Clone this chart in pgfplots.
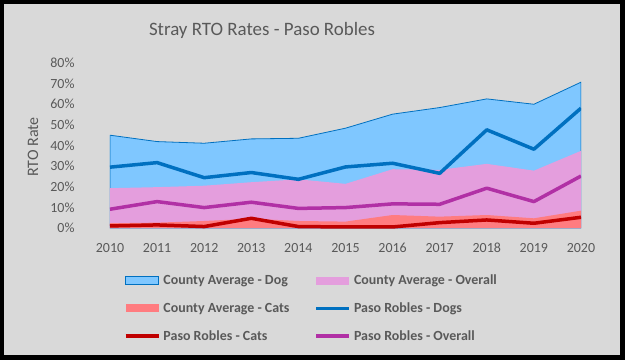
\documentclass[border=0pt]{standalone}
\usepackage{pgfplots}
\pgfplotsset{compat=1.18}
\usepackage{fontspec}
\setmainfont{Carlito}
\definecolor{bg}{RGB}{217,217,217}
\definecolor{txt}{RGB}{89,89,89}
\definecolor{dogfill}{RGB}{127,199,255}
\definecolor{dogedge}{RGB}{0,112,192}
\definecolor{allfill}{RGB}{228,158,221}
\definecolor{catfill}{RGB}{255,124,128}
\definecolor{pdog}{RGB}{0,112,192}
\definecolor{pcat}{RGB}{192,0,0}
\definecolor{pall}{RGB}{177,48,165}
\begin{document}
\begin{tikzpicture}
\useasboundingbox (0,0) rectangle (625bp,360bp);
\fill[black] (0,0) rectangle (625bp,360bp);
\fill[bg] (4bp,5bp) rectangle (620bp,356bp);
\node[text=txt, font=\fontsize{19}{22}\selectfont] at (262bp,330bp) {Stray RTO Rates - Paso Robles};
\node[text=txt, rotate=90, font=\fontsize{16}{19}\selectfont] at (33bp,213bp) {RTO Rate};
\begin{axis}[
  at={(110bp,132bp)}, anchor=south west,
  scale only axis, width=471bp, height=165bp,
  xmin=2010, xmax=2020, ymin=0, ymax=80,
  xtick={2010,...,2020}, ytick={0,10,...,80},
  axis line style={draw=none}, tick style={draw=none},
  /pgf/number format/assume math mode=true,
  /pgf/number format/set thousands separator={},
  xticklabel style={text=txt, font=\fontsize{14}{16}\selectfont, anchor=center, yshift=-20bp},
  yticklabel={\pgfmathprintnumber{\tick}\%},
  yticklabel style={text=txt, font=\fontsize{14}{16}\selectfont, anchor=east, xshift=-32bp},
  legend columns=2,
  legend cell align=left,
  legend style={at={(0.0297,-0.277)}, anchor=north west, draw=none, fill=none,
    inner sep=0pt, outer sep=0pt,
    font=\bfseries\fontsize{14}{17}\selectfont, text=txt,
    nodes={inner sep=0pt, text height=11bp, text depth=3bp},
    row sep=13.7bp,
    /tikz/every odd column/.append style={column sep=3bp},
    /tikz/every even column/.append style={column sep=25bp}},
]
\addplot[fill=dogfill, draw=dogedge, line width=0.8bp,
  legend image code/.code={\draw[fill=dogfill, draw=dogedge, line width=1bp] (0bp,-4bp) rectangle (33bp,4bp);}]
  coordinates {(2010,45) (2011,41.9) (2012,41.1) (2013,43.2) (2014,43.5) (2015,48.4) (2016,55.2) (2017,58.4) (2018,62.6) (2019,60) (2020,70.7)} \closedcycle;
\addlegendentry{County Average - Dog}
\addplot[fill=allfill, draw=none,
  legend image code/.code={\fill[allfill] (0bp,-4bp) rectangle (33bp,4bp);}]
  coordinates {(2010,19.3) (2011,19.8) (2012,20.5) (2013,22.2) (2014,23.6) (2015,21.4) (2016,28.5) (2017,28.2) (2018,31.1) (2019,27.8) (2020,37.4)} \closedcycle;
\addlegendentry{County Average - Overall}
\addplot[fill=catfill, draw=none,
  legend image code/.code={\fill[catfill] (0bp,-4bp) rectangle (33bp,4bp);}]
  coordinates {(2010,2.3) (2011,2.6) (2012,3.4) (2013,4.5) (2014,3.4) (2015,3.1) (2016,6.3) (2017,5.5) (2018,6.3) (2019,4.7) (2020,8.4)} \closedcycle;
\addlegendentry{County Average - Cats}
\addplot[pdog, line width=3.5bp, line join=round,
  legend image code/.code={\draw[pdog, line width=3.5bp] (0bp,0bp) -- (33bp,0bp);}]
  coordinates {(2010,29.5) (2011,31.7) (2012,24.4) (2013,26.9) (2014,23.6) (2015,29.6) (2016,31.4) (2017,26.5) (2018,47.6) (2019,38.2) (2020,58.1)};
\addlegendentry{Paso Robles - Dogs}
\addplot[pcat, line width=3.5bp, line join=round,
  legend image code/.code={\draw[pcat, line width=3.5bp] (0bp,0bp) -- (33bp,0bp);}]
  coordinates {(2010,1.0) (2011,1.5) (2012,0.7) (2013,4.7) (2014,0.7) (2015,0.5) (2016,0.5) (2017,2.6) (2018,3.9) (2019,2.3) (2020,5.2)};
\addlegendentry{Paso Robles - Cats}
\addplot[pall, line width=3.5bp, line join=round,
  legend image code/.code={\draw[pall, line width=3.5bp] (0bp,0bp) -- (33bp,0bp);}]
  coordinates {(2010,9.1) (2011,12.8) (2012,9.9) (2013,12.5) (2014,9.5) (2015,9.9) (2016,11.7) (2017,11.5) (2018,19.3) (2019,12.8) (2020,25.2)};
\addlegendentry{Paso Robles - Overall}
\end{axis}
\end{tikzpicture}
\end{document}
